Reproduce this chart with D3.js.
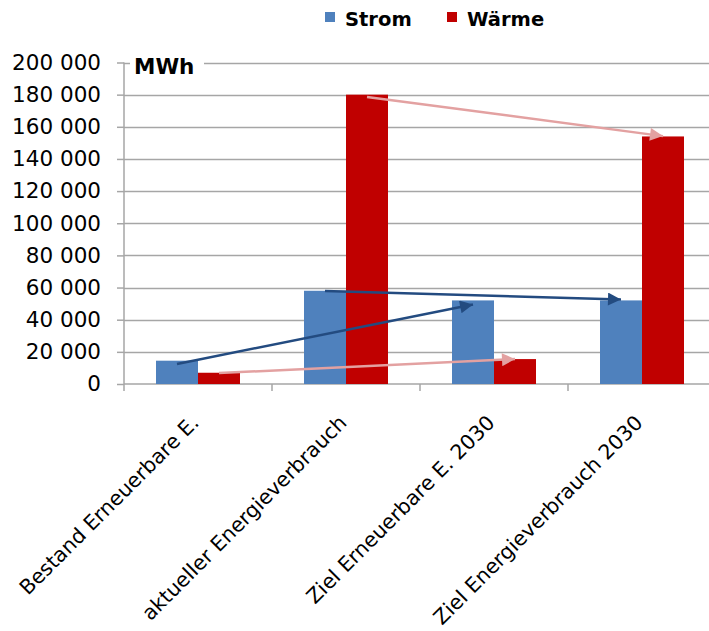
<!DOCTYPE html>
<html>
<head>
<meta charset="utf-8">
<script src="https://cdn.jsdelivr.net/npm/d3@7"></script>
<style>
  html, body { margin: 0; padding: 0; background: #fff; }
  svg { display: block; }
  text { font-family: "DejaVu Sans", sans-serif; fill: #000; }
</style>
</head>
<body>
<svg id="chart" width="709" height="631"></svg>
<script>
// ---- data ----
const categories = ["Bestand Erneuerbare E.", "aktueller Energieverbrauch", "Ziel Erneuerbare E. 2030", "Ziel Energieverbrauch 2030"];
const seriesNames = ["Strom", "Wärme"];
const stromValues = [14500, 58000, 52000, 52000];
const waermeValues = [7000, 180000, 15500, 154000];
const yTicks = [0, 20000, 40000, 60000, 80000, 100000, 120000, 140000, 160000, 180000, 200000];
const yUnit = "MWh";
// arrows: series, from category/value, to category/value
const arrowSeries = ["Strom", "Strom", "Wärme", "Wärme"];
const arrowFromCat = [0, 1, 0, 1];
const arrowFromVal = [12500, 57800, 6800, 178600];
const arrowToCat = [2, 3, 2, 3];
const arrowToVal = [49500, 52600, 15500, 154200];

// ---- styles ----
const colors = { "Strom": "#4F81BD", "Wärme": "#C00000" };
const arrowColors = { "Strom": "#234B80", "Wärme": "#E3A1A1" };

const svg = d3.select("#chart");
const mLeft = 124, mRight = 716, mTop = 62.5, mBottom = 384;

const x = d3.scaleBand().domain(categories).range([mLeft, mRight]).paddingInner(0).paddingOuter(0);
const barW = 42;
const xs = d3.scaleBand().domain(seriesNames).range([x.bandwidth() / 2 - barW, x.bandwidth() / 2 + barW]);
const y = d3.scaleLinear().domain([0, 200000]).range([mBottom, mTop]);

// gridlines
svg.append("g").selectAll("line").data(yTicks.filter(d => d > 0)).join("line")
  .attr("x1", mLeft).attr("x2", 709)
  .attr("y1", d => Math.round(y(d)) + 0.5).attr("y2", d => Math.round(y(d)) + 0.5)
  .attr("stroke", "#A6A6A6").attr("stroke-width", 1.5);

// y axis
const yAxis = d3.axisLeft(y).tickValues(yTicks).tickSize(7).tickPadding(16)
  .tickFormat(d => d === 0 ? "0" : d3.format(",")(d).replace(/,/g, " "));
const gy = svg.append("g").attr("transform", `translate(${mLeft},0)`).call(yAxis);
gy.select(".domain").remove();
gy.selectAll(".tick line").attr("stroke", "#A6A6A6").attr("stroke-width", 1.5);
gy.selectAll(".tick text").style("font-size", "21.5px").style("font-family", "DejaVu Sans").attr("fill", "#000");
svg.append("line").attr("x1", mLeft).attr("x2", mLeft).attr("y1", mTop).attr("y2", mBottom + 7)
  .attr("stroke", "#A6A6A6").attr("stroke-width", 1.5);

// x axis
const gx = svg.append("g").attr("transform", `translate(0,${mBottom})`);
gx.append("line").attr("x1", mLeft).attr("x2", 709).attr("y1", 0).attr("y2", 0)
  .attr("stroke", "#A6A6A6").attr("stroke-width", 1.5);
gx.selectAll("line.tk").data(categories).join("line").attr("class", "tk")
  .attr("x1", d => x(d) + x.bandwidth()).attr("x2", d => x(d) + x.bandwidth())
  .attr("y1", 0).attr("y2", 7).attr("stroke", "#A6A6A6").attr("stroke-width", 1.5);

// bars
const groups = svg.append("g").selectAll("g").data(categories).join("g")
  .attr("transform", d => `translate(${x(d)},0)`);
groups.selectAll("rect").data((d, i) => [
  { s: "Strom", v: stromValues[i] }, { s: "Wärme", v: waermeValues[i] }]).join("rect")
  .attr("x", d => xs(d.s)).attr("width", xs.bandwidth())
  .attr("y", d => y(d.v)).attr("height", d => mBottom - y(d.v))
  .attr("fill", d => colors[d.s]);

// unit label
const unitG = svg.append("g");
unitG.append("rect").attr("x", mLeft + 6).attr("y", y(200000) - 10).attr("width", 74).attr("height", 22).attr("fill", "#fff");
unitG.append("text").attr("x", mLeft + 10).attr("y", y(200000) + 11).text(yUnit)
  .style("font-size", "21.5px").style("font-weight", "bold");

// arrows
const defs = svg.append("defs");
seriesNames.forEach((s, k) => {
  defs.append("marker").attr("id", "ah" + k).attr("viewBox", "0 0 10 10")
    .attr("refX", 10).attr("refY", 5).attr("markerUnits", "userSpaceOnUse")
    .attr("markerWidth", 16).attr("markerHeight", 13).attr("orient", "auto")
    .append("path").attr("d", "M0,0 L10,5 L0,10 Z").attr("fill", arrowColors[s]);
});
const cx = (ci, s) => x(categories[ci]) + xs(s) + xs.bandwidth() / 2;
svg.append("g").selectAll("line").data(arrowSeries).join("line")
  .attr("x1", (s, i) => cx(arrowFromCat[i], s)).attr("y1", (s, i) => y(arrowFromVal[i]))
  .attr("x2", (s, i) => cx(arrowToCat[i], s)).attr("y2", (s, i) => y(arrowToVal[i]))
  .attr("stroke", s => arrowColors[s]).attr("stroke-width", 2.5)
  .attr("marker-end", s => "url(#ah" + seriesNames.indexOf(s) + ")");

// x labels
svg.append("g").selectAll("text").data(categories).join("text")
  .attr("transform", d => `translate(${x(d) + x.bandwidth() / 2 + 2},${mBottom + 40}) rotate(-45)`)
  .attr("text-anchor", "end")
  .style("font-size", "20.5px").text(d => d);

// legend
const lg = svg.append("g");
const legX = [325, 447];
seriesNames.forEach((s, i) => {
  lg.append("rect").attr("x", legX[i]).attr("y", 12).attr("width", 10).attr("height", 10).attr("fill", colors[s]);
  lg.append("text").attr("x", legX[i] + 20).attr("y", 26).text(s)
    .style("font-size", "19.5px").style("font-weight", "bold");
});
</script>
</body>
</html>
